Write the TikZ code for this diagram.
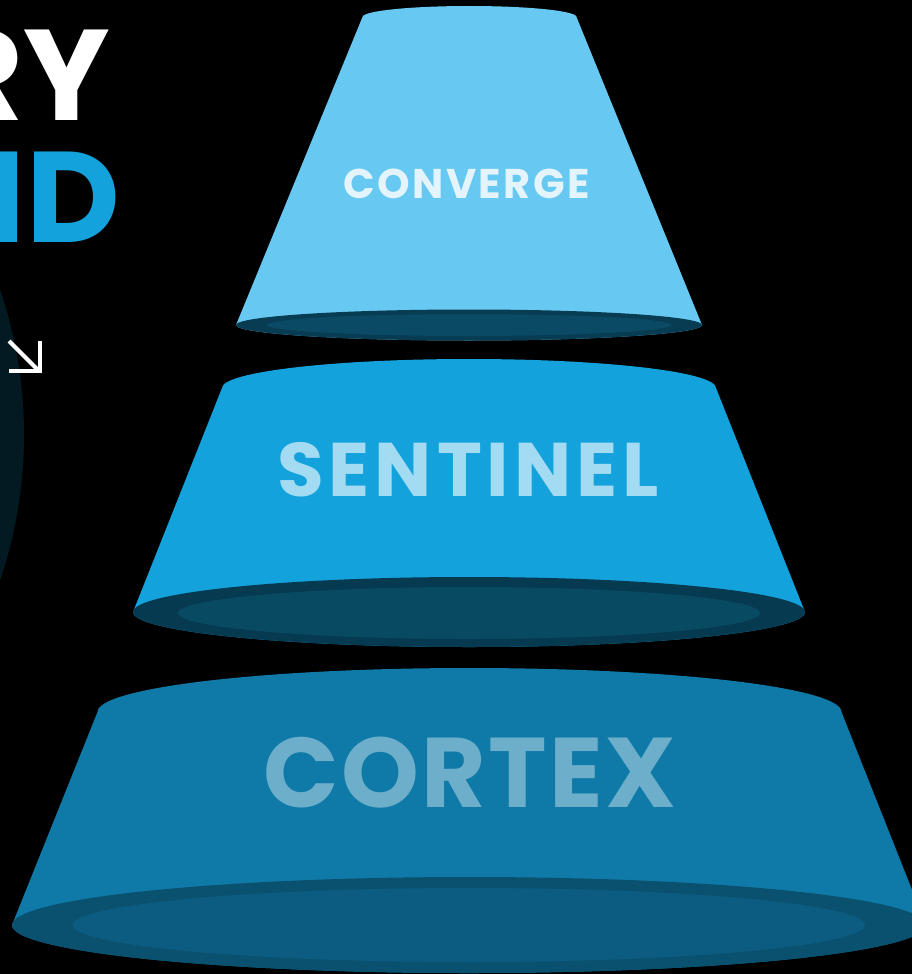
\documentclass[tikz,border=0pt]{standalone}
\usepackage{fontspec}
\newfontfamily\pop{Poppins}
\newfontfamily\popA{Poppins}[LetterSpace=6.0]
\newfontfamily\popB{Poppins}[LetterSpace=6.5]
\newfontfamily\popC{Poppins}[LetterSpace=2.5]
\definecolor{topc}{HTML}{67C9F2}
\definecolor{midc}{HTML}{13A2DB}
\definecolor{botc}{HTML}{0F7AA8}
\definecolor{topo}{HTML}{073C52}
\definecolor{topi}{HTML}{0A4A64}
\definecolor{mido}{HTML}{063A50}
\definecolor{midi}{HTML}{094A63}
\definecolor{boto}{HTML}{0A5170}
\definecolor{boti}{HTML}{0B5C80}
\definecolor{toptext}{HTML}{E3F4FC}
\definecolor{midtext}{HTML}{A3DBF2}
\definecolor{bottext}{HTML}{6DAFCB}
\definecolor{idblue}{HTML}{13A2DB}
\definecolor{circc}{HTML}{031A22}
\tikzset{
  label/.style={inner sep=0pt, anchor=base west},
}
\begin{document}
\begin{tikzpicture}[x=1pt,y=-1pt]
\useasboundingbox (0,0) rectangle (912,974);
\clip (0,0) rectangle (912,974);
\fill[black] (0,0) rectangle (912,974);
% left decoration
\fill[circc] (-426,435) circle[radius=450pt];
\node[inner sep=0pt, anchor=base east, text=white, font=\pop\bfseries\fontsize{129}{129}\selectfont] (ry) at (110,120) {RY};
\node[inner sep=0pt, anchor=base east, text=idblue, font=\pop\bfseries\fontsize{129}{129}\selectfont] (id) at (120,242) {ID};
\draw[white, line width=4pt] (9,341) -- (39,371);
\draw[white, line width=4pt] (9,371) -- (40,371) -- (40,341);
% CORTEX
\fill[botc] (97.5,712) arc[start angle=180, end angle=0, x radius=372pt, y radius=44pt]
  -- (926,925) arc[start angle=0, end angle=-180, x radius=457pt, y radius=48pt] -- cycle;
\fill[boto] (469,925) ellipse[x radius=457pt, y radius=48pt];
\fill[boti] (469,925) ellipse[x radius=396pt, y radius=37pt];
\node[label, text=bottext, font=\popC\bfseries\fontsize{99}{99}\selectfont] (cortex) at (263,807) {CORTEX};
% SENTINEL
\fill[midc] (222,388) arc[start angle=180, end angle=0, x radius=247pt, y radius=29pt]
  -- (805,612) arc[start angle=0, end angle=-180, x radius=336pt, y radius=35pt] -- cycle;
\fill[mido] (469,612) ellipse[x radius=336pt, y radius=35pt];
\fill[midi] (469,613) ellipse[x radius=291pt, y radius=26pt];
\node[label, text=midtext, font=\popB\bfseries\fontsize{76}{76}\selectfont] (sentinel) at (277,496) {SENTINEL};
% CONVERGE
\fill[topc] (362.5,17) arc[start angle=180, end angle=0, x radius=107pt, y radius=11pt]
  -- (702,325) arc[start angle=0, end angle=-180, x radius=233pt, y radius=15.5pt] -- cycle;
\fill[topo] (469,325) ellipse[x radius=233pt, y radius=15.5pt];
\fill[topi] (469,325) ellipse[x radius=202pt, y radius=11pt];
\node[label, text=toptext, font=\popA\bfseries\fontsize{41.5}{41.5}\selectfont] (converge) at (343,198) {CONVERGE};
\end{tikzpicture}
\end{document}
